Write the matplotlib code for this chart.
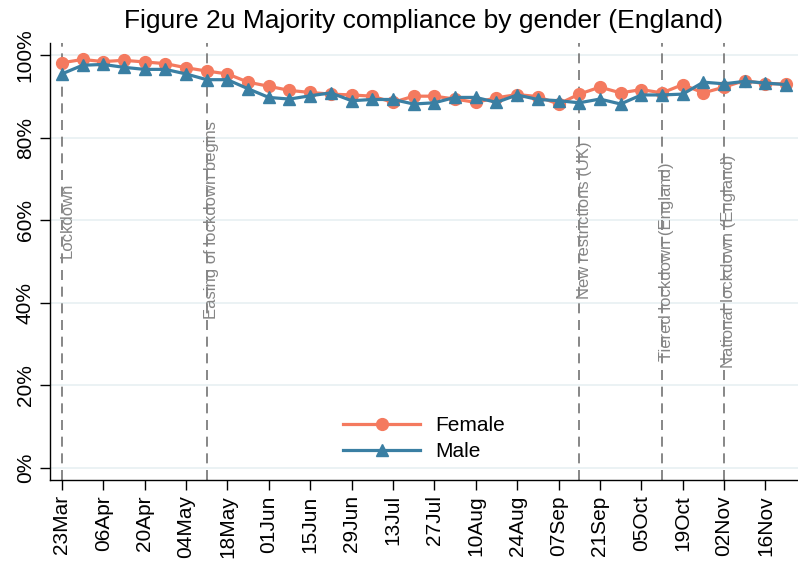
import numpy as np
import pandas as pd
import matplotlib
matplotlib.use("Agg")
import matplotlib.pyplot as plt
import matplotlib.dates as mdates

plt.rcParams["font.family"] = ["Liberation Sans", "DejaVu Sans"]

# weekly survey waves, 23 Mar - 23 Nov 2020
weeks = pd.date_range("2020-03-23", periods=36, freq="7D")
female = [98.2, 99.0, 98.5, 98.8, 98.4, 98.0, 97.0, 96.2, 95.5, 93.5, 92.5, 91.5,
          91.0, 90.6, 90.4, 90.1, 88.6, 90.1, 90.1, 89.4, 88.6, 89.7, 90.5, 90.0,
          88.2, 90.6, 92.3, 90.9, 91.7, 90.9, 92.9, 90.9, 92.3, 93.9, 93.1, 93.1]
male = [95.5, 97.6, 97.8, 97.1, 96.6, 96.6, 95.5, 94.1, 94.1, 91.9, 89.8, 89.4,
        90.2, 90.9, 89.0, 89.3, 89.3, 88.2, 88.5, 89.8, 89.8, 88.6, 90.4, 89.3,
        89.0, 88.5, 89.4, 88.2, 90.4, 90.4, 90.6, 93.5, 93.1, 93.7, 93.3, 92.9]

events = ["2020-03-23", "2020-05-11", "2020-09-14", "2020-10-12", "2020-11-02"]
event_labels = ["Lockdown", "Easing of lockdown begins", "New restrictions (UK)",
                "Tiered lockdown (England)", "National lockdown (England)"]
event_label_y = [60, 60, 60, 50, 50]

tick_dates = pd.date_range("2020-03-23", "2020-11-16", freq="14D")
yticks = [0, 20, 40, 60, 80, 100]

c_female = "#F47A5F"
c_male = "#3A7FA3"

fig = plt.figure(figsize=(7.98, 5.66), dpi=100)
ax = fig.add_axes([50 / 798, 86 / 566, 748 / 798, 437 / 566])

for y in yticks:
    ax.axhline(y, color="#E8F0F2", lw=1.2, zorder=0)

for d, lab, ly in zip(events, event_labels, event_label_y):
    d = pd.Timestamp(d)
    ax.axvline(d, color="#737373", lw=1.2, ls=(0, (6, 4)), zorder=1)
    ax.annotate(lab, (d, ly), xytext=(3.5, 0), textcoords="offset points",
                rotation=90, ha="center", va="center", color="#858585",
                fontsize=12, zorder=2)

ax.plot(weeks, female, color=c_female, lw=2.3, marker="o", ms=8.5, label="Female", zorder=3)
ax.plot(weeks, male, color=c_male, lw=2.3, marker="^", ms=8, label="Male", zorder=3)

ax.set_xlim(weeks[0] - pd.Timedelta(days=4), weeks[-1] + pd.Timedelta(days=4))
ax.set_ylim(-3, 103)
ax.set_xticks(tick_dates)
ax.xaxis.set_major_formatter(mdates.DateFormatter("%d%b"))
ax.set_yticks(yticks)
ax.set_yticklabels([f"{y}%" for y in yticks], rotation=90, va="center")
plt.setp(ax.get_xticklabels(), rotation=90)
ax.tick_params(labelsize=15, length=7, width=1, pad=4)

for s in ["top", "right"]:
    ax.spines[s].set_visible(False)
ax.spines["left"].set_linewidth(1)
ax.spines["bottom"].set_linewidth(1)

ax.legend(loc="center", bbox_to_anchor=(0.5, 0.095), frameon=False, fontsize=15,
          handlelength=3.7, handletextpad=0.7, labelspacing=0.35)

fig.text(424 / 798, 1 - 21 / 566, "Figure 2u Majority compliance by gender (England)",
         ha="center", va="center", fontsize=19)

fig.savefig("out.png", dpi=100)
